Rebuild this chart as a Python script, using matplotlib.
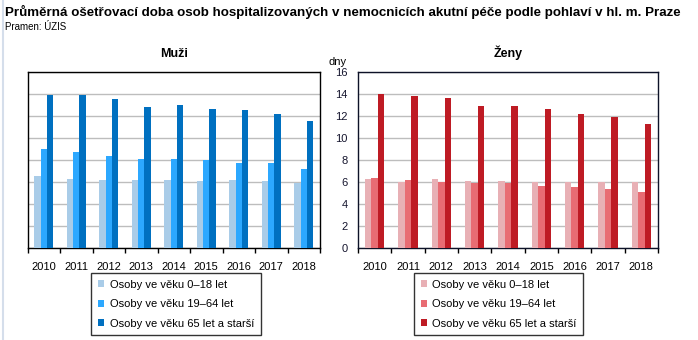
import matplotlib
matplotlib.use("Agg")
import matplotlib.pyplot as plt
from matplotlib.patches import Patch
from matplotlib.lines import Line2D
import numpy as np

plt.rcParams['font.family'] = ['Liberation Sans', 'DejaVu Sans']

years = ["2010", "2011", "2012", "2013", "2014", "2015", "2016", "2017", "2018"]
series_labels = ["Osoby ve věku 0–18 let", "Osoby ve věku 19–64 let",
                 "Osoby ve věku 65 let a starší"]

muzi_0_18 = [6.5, 6.3, 6.2, 6.2, 6.2, 6.1, 6.2, 6.1, 5.9]
muzi_19_64 = [9.0, 8.7, 8.4, 8.1, 8.1, 8.0, 7.7, 7.7, 7.2]
muzi_65 = [13.9, 13.9, 13.5, 12.8, 13.0, 12.6, 12.5, 12.2, 11.5]

zeny_0_18 = [6.3, 6.0, 6.3, 6.1, 6.1, 6.0, 6.0, 6.0, 6.0]
zeny_19_64 = [6.4, 6.2, 6.0, 5.9, 5.9, 5.6, 5.5, 5.4, 5.1]
zeny_65 = [14.0, 13.8, 13.6, 12.9, 12.9, 12.6, 12.2, 11.9, 11.3]

blue_colors = ["#A9CCE8", "#2CA8FF", "#0070C0"]
red_colors = ["#E8B0B5", "#E86C73", "#BE1B24"]

W, H = 698, 340
fig = plt.figure(figsize=(W / 100, H / 100), dpi=100)
fig.patch.set_facecolor("white")

# thin light frame line at the left edge
fig.add_artist(Line2D([2.5 / W, 2.5 / W], [0, 1], color="#D5DEEB", lw=1.5))

def px_axes(x0, y0, x1, y1):
    return fig.add_axes([x0 / W, 1 - y1 / H, (x1 - x0) / W, (y1 - y0) / H])

ax_m = px_axes(27.5, 72, 320, 248)
ax_z = px_axes(358, 72, 658, 248)

x = np.arange(len(years))
bw = 0.195

for ax, data, cols, title, spine_col in [
    (ax_m, [muzi_0_18, muzi_19_64, muzi_65], blue_colors, "Muži", "black"),
    (ax_z, [zeny_0_18, zeny_19_64, zeny_65], red_colors, "Ženy", "#0D1228"),
]:
    for k, (vals, c) in enumerate(zip(data, cols)):
        ax.bar(x + (k - 1) * bw, vals, width=bw, color=c, zorder=3, linewidth=0)
    ax.set_xlim(-0.5, len(years) - 0.5)
    ax.set_ylim(0, 16)
    ax.set_yticks(np.arange(0, 17, 2))
    ax.grid(axis="y", color="#BDBDBD", lw=1.0, zorder=1)
    ax.set_axisbelow(True)
    for s in ax.spines.values():
        s.set_color(spine_col)
        s.set_linewidth(1.0)
    ax.set_xticks(x)
    ax.set_xticklabels(years, fontsize=8)
    ax.tick_params(axis="x", which="major", length=0, pad=10)
    ax.set_xticks(np.arange(-0.5, len(years)), minor=True)
    ax.tick_params(axis="x", which="minor", length=3.5, width=1.0,
                   direction="out", color="black")
    ax.set_title(title, fontsize=9, fontweight="bold", pad=11)

ax_m.tick_params(axis="y", length=0, labelleft=False)
ax_z.tick_params(axis="y", length=0, labelleft=True, pad=7.5, labelsize=8,
                 labelcolor="#15152E")

fig.text(338 / W, 1 - 62 / H, "dny", fontsize=8, ha="center", va="center")

fig.text(5 / W, 1 - 12 / H,
         "Průměrná ošetřovací doba osob hospitalizovaných v nemocnicích akutní péče podle pohlaví v hl. m. Praze",
         fontsize=9.6, fontweight="bold", ha="left", va="center")
fig.text(5 / W, 1 - 27 / H, "Pramen: ÚZIS", fontsize=7, ha="left", va="center")

for cols, x0 in [(blue_colors, 91.5), (red_colors, 414)]:
    handles = [Patch(facecolor=c, edgecolor="none") for c in cols]
    leg = fig.legend(handles, series_labels, loc="upper left",
                     bbox_to_anchor=(x0 / W, 1 - 273 / H), fontsize=8,
                     frameon=True, fancybox=False, edgecolor="black",
                     handlelength=0.55, handleheight=0.55, handletextpad=0.5,
                     labelspacing=0.85, borderpad=0.6, borderaxespad=0)
    leg.get_frame().set_linewidth(1.0)

fig.savefig("out.png", dpi=100)
